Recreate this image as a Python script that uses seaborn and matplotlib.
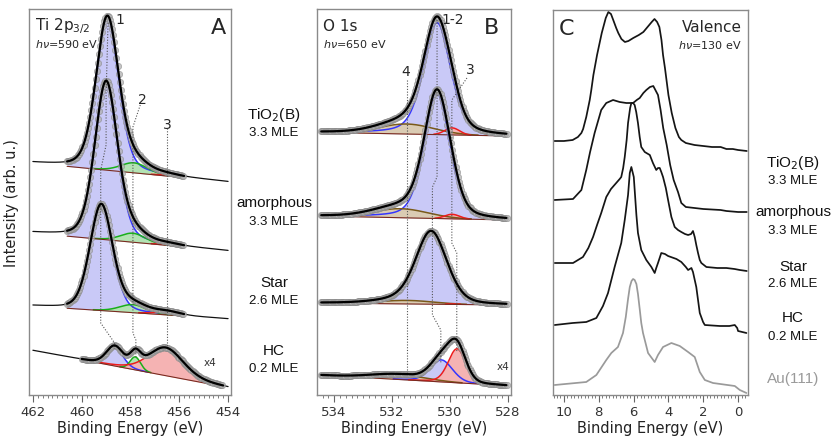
import numpy as np
import matplotlib
matplotlib.use("Agg")
import matplotlib.pyplot as plt
from matplotlib.ticker import MultipleLocator
import seaborn as sns

sns.set_theme(style="white")
plt.rcParams["font.family"] = ["DejaVu Sans"]

# ---------------- data: Ti 2p3/2 (panel A) ----------------
samples = ["TiO$_2$(B)", "amorphous", "Star", "HC"]
coverage = ["3.3 MLE", "3.3 MLE", "2.6 MLE", "0.2 MLE"]

ti_bg_start = [232, 162, 89, 44.5]      # background at 462 eV
ti_bg_end = [213, 144, 76, 7.5]         # background at 454 eV
ti_fit_start = [460.6, 460.6, 460.6, 460.0]
ti_fit_end = [455.8, 455.8, 455.8, 454.2]
ti_c1 = [458.95, 459.0, 459.2, 458.65]
ti_h1 = [153, 158, 106, 19]
ti_w1 = [1.1, 1.1, 1.1, 0.8]
ti_e1 = [0.3, 0.3, 0.25, 0.2]
ti_c2 = [457.85, 457.9, 457.9, 457.8]
ti_h2 = [10, 9, 8, 13]
ti_w2 = [1.3, 1.2, 1.3, 0.5]
ti_e2 = [0.2, 0.2, 0.2, 0.1]
ti_c3 = [456.5, 456.5, 456.5, 456.55]
ti_h3 = [1, 1, 3, 28]
ti_w3 = [1.0, 1.0, 1.2, 1.7]
ti_e3 = [0.0, 0.0, 0.2, 0.3]

# ---------------- data: O 1s (panel B) ----------------
o_bg_start = [262.7, 179, 92, 20]       # background at 534.5 eV
o_bg_end = [259, 175, 90, 9.3]          # background at 528.0 eV
o_c12 = [530.45, 530.45, 530.65, 530.3]
o_h12 = [112, 125, 71, 22]
o_w12 = [1.1, 1.05, 1.25, 0.9]
o_e12 = [0.4, 0.35, 0.3, 0.2]
o_c3 = [529.93, 529.93, 529.9, 529.76]
o_h3 = [7, 4.5, 0.5, 34]
o_w3 = [0.6, 0.6, 0.6, 0.72]
o_e3 = [0.0, 0.0, 0.0, 0.2]
o_c4 = [531.5, 531.7, 531.5, 531.8]
o_h4 = [10, 9, 3.5, 5]
o_w4 = [2.2, 2.2, 2.2, 2.2]
o_e4 = [0.0, 0.0, 0.0, 0.0]

# ---------------- data: valence band (panel C) ----------------
val_tio2_E = [10.55, 10.0, 9.5, 9.2, 9.0, 8.9, 8.72, 8.52, 8.43, 8.31, 8.1, 7.83, 7.6, 7.45, 7.3,
              7.17, 7.0, 6.88, 6.7, 6.5, 6.3, 6.02, 5.7, 5.44, 5.2, 4.96, 4.8, 4.65, 4.52, 4.4,
              4.31, 4.2, 4.0, 3.81, 3.6, 3.4, 3.26, 3.0, 2.5, 2.0, 1.5, 1.0, 0.67, 0.3, 0.0, -0.5]
val_tio2_I = [254, 254, 255, 258, 262, 266, 278, 295, 305, 320, 340, 362, 377, 383, 381,
              375, 367, 362, 356, 353, 354, 357, 360, 363, 368, 373, 376, 373, 368, 355,
              340, 327, 300, 282, 267, 258, 255, 252, 250, 249, 248, 248, 246, 246, 245, 244]
val_amor_E = [10.55, 9.48, 9.0, 8.72, 8.5, 8.24, 7.86, 7.57, 7.18, 6.8, 6.42, 6.03, 5.82, 5.65,
              5.44, 5.27, 5.06, 4.87, 4.6, 4.45, 4.3, 4.1, 3.9, 3.7, 3.45, 3.26, 3.0, 2.5, 2.0,
              1.0, 0.67, 0.0, -0.5]
val_amor_I = [195, 196, 205, 225, 243, 262, 285, 292, 295, 293, 292, 292, 295, 297,
              302, 305, 308, 309, 300, 285, 267, 250, 230, 215, 203, 192, 188, 187, 186,
              185, 184, 183, 183]
val_star_E = [10.53, 9.48, 8.91, 8.6, 8.33, 8.1, 7.86, 7.57, 7.3, 7.0, 6.8, 6.71, 6.6, 6.51, 6.4,
              6.32, 6.2, 6.13, 6.03, 5.94, 5.85, 5.75, 5.65, 5.56, 5.36, 5.07, 4.89, 4.70, 4.60,
              4.50, 4.41, 4.31, 4.15, 4.02, 3.83, 3.64, 3.45, 3.26, 3.05, 2.87, 2.7, 2.59, 2.49,
              2.40, 2.30, 2.20, 2.11, 1.82, 1.2, 0.67, 0.2, -0.1, -0.5]
val_star_I = [132, 132, 138, 147, 158, 170, 182, 198, 206, 212, 216, 218, 227, 238, 255,
              272, 287, 292, 292, 290, 283, 272, 258, 248, 243, 240, 232, 225, 227,
              227, 223, 218, 207, 195, 178, 168, 165, 163, 161, 160, 161, 164, 158,
              150, 142, 135, 132, 128, 127, 127, 126, 125, 124]
val_hc_E = [10.53, 9.5, 8.72, 8.14, 7.95, 7.76, 7.47, 7.09, 6.71, 6.51, 6.32, 6.22, 6.13, 5.99,
            5.84, 5.75, 5.56, 5.27, 4.98, 4.79, 4.70, 4.60, 4.41, 4.2, 4.02, 3.54, 3.26, 3.0,
            2.87, 2.68, 2.59, 2.40, 2.20, 2.01, 1.91, 1.05, 0.5, 0.19, 0.05, 0.0, -0.48]
val_hc_I = [70, 72, 73, 77, 83, 89, 102, 128, 152, 175, 200, 222, 228, 218,
            180, 162, 145, 135, 128, 122, 127, 132, 142, 141, 139, 136, 133, 128,
            125, 127, 123, 108, 82, 73, 70, 69, 69, 70, 67, 64, 62]
val_au_E = [10.53, 8.72, 8.14, 7.57, 7.28, 6.90, 6.61, 6.45, 6.32, 6.22, 6.12, 6.03, 5.94, 5.84,
            5.75, 5.65, 5.56, 5.46, 5.17, 4.79, 4.60, 4.31, 3.83, 3.35, 2.87, 2.49, 2.20, 1.91,
            1.44, 0.19, -0.1, -0.48]
val_au_I = [10, 13, 20, 35, 42, 48, 62, 78, 96, 108, 114, 116, 115, 111,
            101, 86, 72, 62, 42, 33, 40, 48, 52, 49, 43, 38, 23, 15,
            12, 9, 5, 2]

# guide lines (energy, intensity) for the peak positions
gA1_E = [458.92, 459.0, 459.0, 459.22, 459.22, 458.65, 458.65]
gA1_I = [372, 300, 250, 225, 72, 52, 46]
gA2_E = [457.6, 457.9, 457.9, 457.78, 457.78]
gA2_I = [290, 268, 62, 55, 38]
gA3_E = [456.5, 456.5]
gA3_I = [267, 48]
gB12_E = [530.45, 530.45, 530.61, 530.61, 530.32, 530.32]
gB12_I = [375, 218, 208, 80, 65, 32]
gB3_E = [529.42, 529.94, 529.94, 529.77, 529.77]
gB3_I = [317, 295, 152, 142, 43]
gB4_E = [531.5, 531.5]
gB4_I = [315, 23]

# ---------------- style ----------------
BLUE_L, BLUE_F = "#3535ff", "#c9c9f7"
GREEN_L, GREEN_F = "#19b019", "#b3e3b3"
RED_L, RED_F = "#ee1c1c", "#f5b3b3"
BROWN_L, BROWN_F = "#7a5a18", "#dacbb3"
BG_L = "#7a2a20"
W, H = 834, 440


def pv(E, c, h, w, eta):
    x = (E - c) / w
    return h * ((1 - eta) * np.exp(-4 * np.log(2) * x ** 2) + eta / (1 + 4 * x ** 2))


def fx(p):
    return p / W


def fy(p):
    return 1 - p / H


fig = plt.figure(figsize=(8.34, 4.4), dpi=100)
axA = fig.add_axes([fx(29), fy(395), fx(231) - fx(29), fy(9) - fy(395)])
axB = fig.add_axes([fx(317), fy(395), fx(511) - fx(317), fy(9) - fy(395)])
axC = fig.add_axes([fx(553), fy(395), fx(748) - fx(553), fy(10) - fy(395)])


def style_axis(ax, xlim, ylim):
    ax.set_xlim(*xlim)
    ax.set_ylim(*ylim)
    ax.set_yticks([])
    ax.xaxis.set_major_locator(MultipleLocator(2))
    ax.xaxis.set_minor_locator(MultipleLocator(0.2))
    ax.tick_params(axis="x", which="major", direction="out", length=5, width=0.8,
                   color="#666666", labelsize=9.5, labelcolor="#333333", pad=3, bottom=True)
    ax.tick_params(axis="x", which="minor", direction="out", length=2.5, width=0.6,
                   color="#666666", bottom=True)
    for s in ax.spines.values():
        s.set_color("#8a8a8a")
        s.set_linewidth(1.0)
    ax.set_xlabel("Binding Energy (eV)", fontsize=10.5, color="#222222", labelpad=1)
    ax.set_ylabel("")


def draw_core(ax, Efull, lo, hi, bgs, bge, comps, fit_lo, fit_hi, step):
    bg = bgs + (bge - bgs) * (Efull - lo) / (hi - lo)
    comp_vals = [pv(Efull, *p) for (p, _, _) in comps]
    total = bg + np.sum(comp_vals, axis=0)
    # raw data line over the full range
    sns.lineplot(x=Efull, y=total, ax=ax, color="#111111", lw=0.9, zorder=2)
    m = (Efull <= fit_lo) & (Efull >= fit_hi)
    for val, (p, lc, fc) in zip(comp_vals, comps):
        k = m & (val > 0.3)
        ax.fill_between(Efull, bg, bg + val, where=k, color=fc, lw=0, zorder=3)
    for val, (p, lc, fc) in zip(comp_vals, comps):
        k = m & (val > 0.3)
        ax.plot(Efull[k], (bg + val)[k], color=lc, lw=1.1, zorder=4)
    ax.plot(Efull[m], bg[m], color=BG_L, lw=0.8, zorder=4)
    Em = np.arange(fit_lo, fit_hi, -step)
    bgm = bgs + (bge - bgs) * (Em - lo) / (hi - lo)
    tm = bgm + np.sum([pv(Em, *p) for (p, _, _) in comps], axis=0)
    ax.plot(Em, tm, ls="none", marker="o", ms=4.6, mfc="#b0b0b0", mec="#808080",
            mew=0.4, alpha=0.75, zorder=5)
    ax.plot(Efull[m], total[m], color="#000000", lw=1.6, zorder=7)


# ---------------- panel A ----------------
EA = np.linspace(462.0, 454.0, 800)
for i in range(4):
    comps = [((ti_c1[i], ti_h1[i], ti_w1[i], ti_e1[i]), BLUE_L, BLUE_F),
             ((ti_c2[i], ti_h2[i], ti_w2[i], ti_e2[i]), GREEN_L, GREEN_F),
             ((ti_c3[i], ti_h3[i], ti_w3[i], ti_e3[i]), RED_L, RED_F)]
    draw_core(axA, EA, 462.0, 454.0, ti_bg_start[i], ti_bg_end[i], comps,
              ti_fit_start[i], ti_fit_end[i], 0.045)
for ge, gi in [(gA1_E, gA1_I), (gA2_E, gA2_I), (gA3_E, gA3_I)]:
    axA.plot(ge, gi, color="#555555", lw=0.8, ls=(0, (1, 1.5)), zorder=6)
style_axis(axA, (462.16, 453.88), (0, 386))
axA.text(458.45, 375, "1", fontsize=10, ha="center", va="center", zorder=9)
axA.text(457.53, 295, "2", fontsize=10, ha="center", va="center", zorder=9)
axA.text(456.5, 270, "3", fontsize=10, ha="center", va="center", zorder=9)
axA.text(454.74, 32, "x4", fontsize=7.5, ha="center", va="center", color="#333333")
axA.text(0.03, 0.955, "Ti 2p$_{3/2}$", transform=axA.transAxes, fontsize=11, va="center")
axA.text(0.03, 0.91, r"$h\nu$=590 eV", transform=axA.transAxes, fontsize=8, va="center")
axA.text(0.94, 0.95, "A", transform=axA.transAxes, fontsize=16, ha="center", va="center")

# ---------------- panel B ----------------
EB = np.linspace(534.5, 528.0, 800)
for i in range(4):
    comps = [((o_c12[i], o_h12[i], o_w12[i], o_e12[i]), BLUE_L, BLUE_F),
             ((o_c4[i], o_h4[i], o_w4[i], o_e4[i]), BROWN_L, BROWN_F),
             ((o_c3[i], o_h3[i], o_w3[i], o_e3[i]), RED_L, RED_F)]
    draw_core(axB, EB, 534.5, 528.0, o_bg_start[i], o_bg_end[i], comps,
              534.45, 528.05, 0.04)
for ge, gi in [(gB12_E, gB12_I), (gB3_E, gB3_I), (gB4_E, gB4_I)]:
    axB.plot(ge, gi, color="#555555", lw=0.8, ls=(0, (1, 1.5)), zorder=6)
style_axis(axB, (534.59, 527.9), (0, 386))
axB.text(529.9, 375, "1-2", fontsize=10, ha="center", va="center", zorder=9)
axB.text(529.31, 325, "3", fontsize=10, ha="center", va="center", zorder=9)
axB.text(531.52, 323, "4", fontsize=10, ha="center", va="center", zorder=9)
axB.text(528.17, 28, "x4", fontsize=7.5, ha="center", va="center", color="#333333")
axB.text(0.03, 0.955, "O 1s", transform=axB.transAxes, fontsize=11, va="center")
axB.text(0.03, 0.91, r"$h\nu$=650 eV", transform=axB.transAxes, fontsize=8, va="center")
axB.text(0.9, 0.95, "B", transform=axB.transAxes, fontsize=16, ha="center", va="center")

# ---------------- panel C ----------------
for e, v, col in [(val_tio2_E, val_tio2_I, "#151515"), (val_amor_E, val_amor_I, "#151515"),
                  (val_star_E, val_star_I, "#151515"), (val_hc_E, val_hc_I, "#151515"),
                  (val_au_E, val_au_I, "#9a9a9a")]:
    sns.lineplot(x=e, y=v, ax=axC, color=col, lw=1.25, sort=False, estimator=None)
style_axis(axC, (10.63, -0.57), (0, 385))
axC.text(0.07, 0.95, "C", transform=axC.transAxes, fontsize=16, ha="center", va="center")
axC.text(0.97, 0.955, "Valence", transform=axC.transAxes, fontsize=11, ha="right", va="center")
axC.text(0.97, 0.91, r"$h\nu$=130 eV", transform=axC.transAxes, fontsize=8, ha="right", va="center")

# ---------------- figure texts ----------------
fig.text(fx(12), fy(203), "Intensity (arb. u.)", rotation=90, fontsize=10.5,
         ha="center", va="center", color="#222222")
side_AB_y = [(115, 133), (203, 222), (283, 301), (351, 369)]
side_BC_y = [(163, 181), (212, 231), (267, 284), (318, 337)]
for i in range(4):
    for (xc, (y1, y2)) in [(274, side_AB_y[i]), (793, side_BC_y[i])]:
        fig.text(fx(xc), fy(y1), samples[i], fontsize=11, ha="center", va="center",
                 family="Liberation Sans", color="#111111")
        fig.text(fx(xc), fy(y2), coverage[i], fontsize=9.5, ha="center", va="center",
                 family="Liberation Sans", color="#111111")
fig.text(fx(793), fy(379), "Au(111)", fontsize=11, ha="center", va="center",
         family="Liberation Sans", color="#9a9a9a")

fig.savefig("out.png", dpi=100)
